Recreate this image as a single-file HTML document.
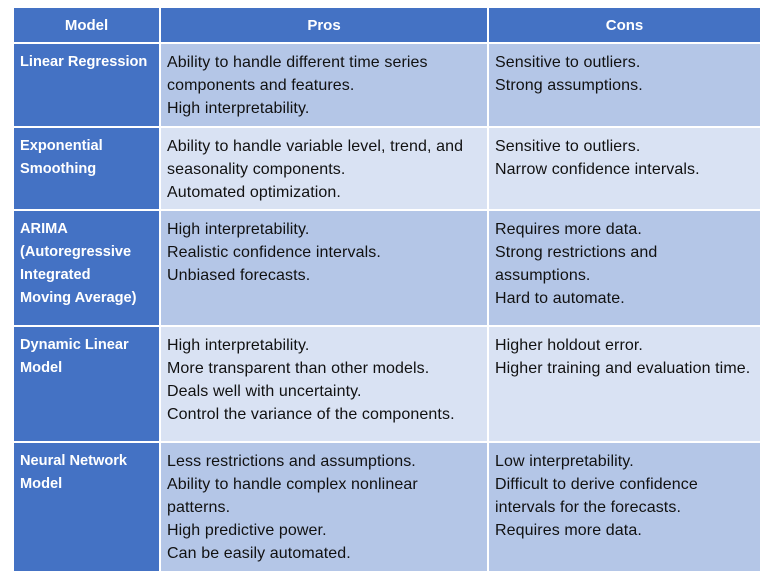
<!DOCTYPE html>
<html><head><style>
body{margin:0;width:778px;height:586px;background:#fff;font-family:"Liberation Sans",sans-serif;font-size:16px;letter-spacing:0.1px;position:relative;overflow:hidden}
.c{position:absolute;box-sizing:border-box;padding:7px 6px 0 6px;line-height:23px;color:#111;white-space:nowrap}
.h{background:#4472c4;color:#fff;font-weight:bold;text-align:center;padding-top:6px;font-size:15px;letter-spacing:0}
.m{background:#4472c4;color:#fff;font-weight:bold;font-size:14.6px;letter-spacing:0}
.d{background:#b4c6e7}.l{background:#d9e2f3}
</style></head><body>
<div class="c h" style="left:14px;top:8px;width:145px;height:34px">Model</div>
<div class="c h" style="left:161px;top:8px;width:326px;height:34px">Pros</div>
<div class="c h" style="left:489px;top:8px;width:271px;height:34px">Cons</div>

<div class="c m" style="left:14px;top:44px;width:145px;height:82px">Linear Regression</div>
<div class="c d" style="left:161px;top:44px;width:326px;height:82px">Ability to handle different time series<br>components and features.<br>High interpretability.</div>
<div class="c d" style="left:489px;top:44px;width:271px;height:82px">Sensitive to outliers.<br>Strong assumptions.</div>

<div class="c m" style="left:14px;top:128px;width:145px;height:81px">Exponential<br>Smoothing</div>
<div class="c l" style="left:161px;top:128px;width:326px;height:81px">Ability to handle variable level, trend, and<br>seasonality components.<br>Automated optimization.</div>
<div class="c l" style="left:489px;top:128px;width:271px;height:81px">Sensitive to outliers.<br>Narrow confidence intervals.</div>

<div class="c m" style="left:14px;top:211px;width:145px;height:114px">ARIMA<br>(Autoregressive<br>Integrated<br>Moving Average)</div>
<div class="c d" style="left:161px;top:211px;width:326px;height:114px">High interpretability.<br>Realistic confidence intervals.<br>Unbiased forecasts.</div>
<div class="c d" style="left:489px;top:211px;width:271px;height:114px">Requires more data.<br>Strong restrictions and<br>assumptions.<br>Hard to automate.</div>

<div class="c m" style="left:14px;top:327px;width:145px;height:114px">Dynamic Linear<br>Model</div>
<div class="c l" style="left:161px;top:327px;width:326px;height:114px">High interpretability.<br>More transparent than other models.<br>Deals well with uncertainty.<br>Control the variance of the components.</div>
<div class="c l" style="left:489px;top:327px;width:271px;height:114px">Higher holdout error.<br>Higher training and evaluation time.</div>

<div class="c m" style="left:14px;top:443px;width:145px;height:128px">Neural Network<br>Model</div>
<div class="c d" style="left:161px;top:443px;width:326px;height:128px">Less restrictions and assumptions.<br>Ability to handle complex nonlinear<br>patterns.<br>High predictive power.<br>Can be easily automated.</div>
<div class="c d" style="left:489px;top:443px;width:271px;height:128px">Low interpretability.<br>Difficult to derive confidence<br>intervals for the forecasts.<br>Requires more data.</div>
</body></html>
